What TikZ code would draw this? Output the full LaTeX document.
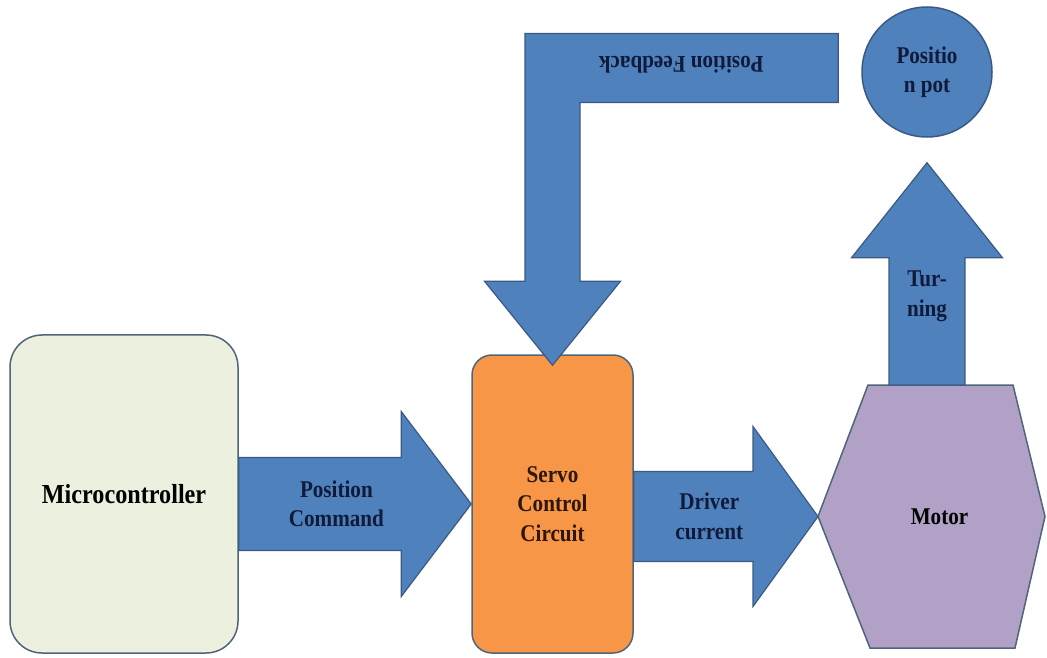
\documentclass[tikz,border=0pt]{standalone}
\usepackage{fontspec}
\setmainfont{Liberation Serif}[FakeStretch=0.88]
\usepackage{tikz}
\usetikzlibrary{positioning,calc,backgrounds}
\definecolor{arrowblue}{RGB}{79,129,189}
\definecolor{arrowedge}{RGB}{58,90,132}
\definecolor{mcugreen}{RGB}{235,241,222}
\definecolor{servoorange}{RGB}{247,150,70}
\definecolor{motorpurple}{RGB}{178,161,199}
\definecolor{boxedge}{RGB}{80,100,122}
\definecolor{fontnavy}{RGB}{16,26,58}
\definecolor{fontbrown}{RGB}{45,22,10}
\def\fatarrow [#1]#2#3#4#5#6{
	% block arrow: tail, tip, half shaft, half head, head length
	\path (#3) coordinate (fa tip) ($(#3)!#6!(#2)$) coordinate (fa base);
	\draw[arrowbody,#1] ($(#2)!#4!90:(fa tip)$) -- ($(fa base)!#4!90:(fa tip)$) -- ($(fa base)!#5!90:(fa tip)$) -- (fa tip) -- ($(fa base)!#5!-90:(fa tip)$) -- ($(fa base)!#4!-90:(fa tip)$) -- ($(#2)!#4!-90:(fa tip)$) -- cycle;
}

\begin{document}
\begin{tikzpicture}[x=1pt, y=1pt,
		block/.style={line width=1.5pt, align=center, inner sep=0pt, font=\bfseries\fontsize{24}{29.5}\selectfont},
		mcubox/.style={block, draw=boxedge, fill=mcugreen, rounded corners=32pt, minimum width=228pt, minimum height=318pt, font=\bfseries\fontsize{27.5}{29.5}\selectfont},
		servobox/.style={block, draw=boxedge, fill=servoorange, rounded corners=20pt, minimum width=161pt, minimum height=298pt, text=fontbrown},
		motorbox/.style={block, draw=none, outer sep=0pt, minimum width=227pt, minimum height=263pt},
		hexa/.style={draw=boxedge, fill=motorpurple, line width=1.5pt, line join=miter},
		potbox/.style={block, circle, draw=arrowedge, fill=arrowblue, minimum size=130pt, text=fontnavy},
		arrowbody/.style={draw=arrowedge, fill=arrowblue, line width=1.2pt, line join=miter},
		arrowtext/.style={block, text=fontnavy},
		]
		\useasboundingbox (0,0) rectangle (1047,657);
		
		\node[mcubox] (mcu) at (124,163) {Microcontroller};
		\node[servobox] (servo) at (552.5,153) {Servo\\Control\\Circuit};
		\node[motorbox] (motor) at (931.5,140.5) {\hspace*{16pt}Motor};
		\node[potbox] (pot) at (927,585) {Positio\\n pot};
		
		\begin{scope}[on background layer]
			\draw[hexa] (motor.west) -- ([xshift=50pt]motor.north west) -- ([xshift=-32pt]motor.north east) -- (motor.east) -- ([xshift=-30pt]motor.south east) -- ([xshift=52pt]motor.south west) -- cycle;
		\end{scope}
		
		\coordinate (cmdtail) at (mcu.east |- servo.west);
		\coordinate (drvtail) at (servo.east |- motor.west);
		\coordinate (turntail) at (pot.south |- motor.north);
		\coordinate (turntip) at ([yshift=-25pt]pot.south);
		\coordinate (fbend) at ([xshift=-23pt, yshift=4pt]pot.west);
		\coordinate (fbtip) at ([yshift=-11pt]servo.north);
		
		\fatarrow[]{cmdtail}{servo.west}{46.5pt}{92.5pt}{70pt}
		\fatarrow[]{drvtail}{motor.west}{45pt}{90pt}{65pt}
		\fatarrow[]{turntail}{turntip}{38pt}{75.5pt}{95pt}
		
		% feedback from the pot, bent down into the servo
		\draw[arrowbody] (fbtip) -- ++(-68,84) -- ++(40.5,0) |- ([yshift=34.5pt]fbend) -- ([yshift=-34.5pt]fbend) -| ($(fbtip)+(27.5,84)$) -- ++(40.5,0) -- cycle;
		
		\node[arrowtext] (cmdlbl) at ($(cmdtail)!0.42!(servo.west)$) {Position\\Command};
		\node[arrowtext] (drvlbl) at ($(drvtail)!0.41!(motor.west)$) {Driver\\current};
		\node[arrowtext] (turnlbl) at ($(turntail)!0.4!(turntip)$) {Tur-\\ning};
		\node[arrowtext, rotate=180] (fblbl) at ([xshift=-157pt, yshift=3pt]fbend) {Position Feedback};
		
\end{tikzpicture}
\end{document}
